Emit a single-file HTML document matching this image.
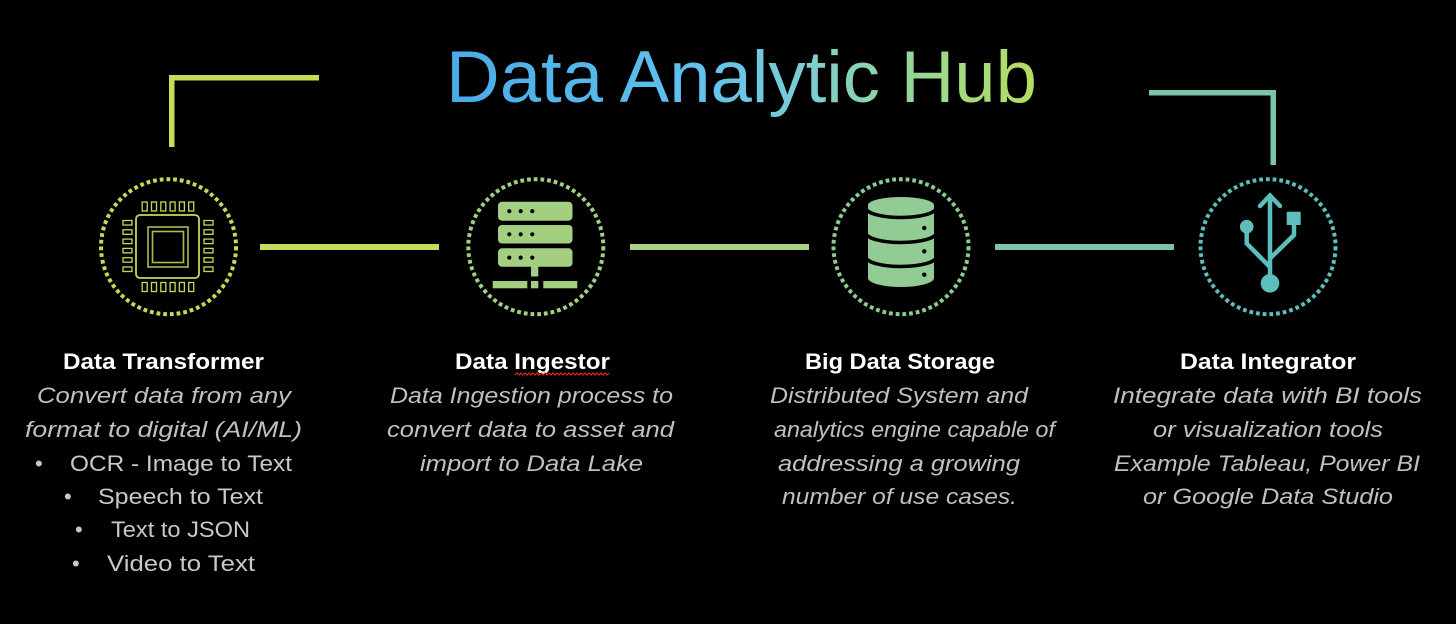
<!DOCTYPE html>
<html>
<head>
<meta charset="utf-8">
<style>
  html, body { margin: 0; padding: 0; background: #000; }
  body { width: 1456px; height: 624px; overflow: hidden; }
  svg { display: block; }
  .b { font-family: "Liberation Sans", sans-serif; font-weight: bold; font-size: 22px; fill: #ffffff; }
  .i { font-family: "Liberation Sans", sans-serif; font-style: italic; font-size: 22px; fill: #c0c0c0; }
  .n { font-family: "Liberation Sans", sans-serif; font-size: 22px; fill: #c8c8c8; }
</style>
</head>
<body>
<svg width="1456" height="624" viewBox="0 0 1456 624" xmlns="http://www.w3.org/2000/svg">
  <defs>
    <linearGradient id="tg" x1="446" y1="0" x2="1037" y2="0" gradientUnits="userSpaceOnUse">
      <stop offset="0" stop-color="#47ABE6"/>
      <stop offset="0.45" stop-color="#63C3EC"/>
      <stop offset="0.62" stop-color="#7ECED0"/>
      <stop offset="0.76" stop-color="#92D59E"/>
      <stop offset="1" stop-color="#B6DD60"/>
    </linearGradient>
  </defs>
  <rect x="0" y="0" width="1456" height="624" fill="#000"/>

  <!-- Title -->
  <text x="446" y="102" font-family="Liberation Sans, sans-serif" font-size="73" fill="url(#tg)" textLength="591" lengthAdjust="spacingAndGlyphs">Data Analytic Hub</text>

  <!-- Brackets -->
  <rect x="169" y="75" width="150" height="5.5" fill="#CBDA58"/>
  <rect x="169" y="75" width="5.5" height="72" fill="#CBDA58"/>
  <rect x="1149" y="90" width="127" height="5.5" fill="#7CC4A8"/>
  <rect x="1270.5" y="90" width="5.5" height="75" fill="#7CC4A8"/>

  <!-- Connectors -->
  <rect x="260" y="244" width="179" height="6" fill="#CAD95A"/>
  <rect x="630" y="244" width="179" height="6" fill="#A8D387"/>
  <rect x="995" y="244" width="179" height="6" fill="#7CC4A8"/>

  <!-- Dotted circles -->
  <circle cx="168.5" cy="246.7" r="67.5" fill="none" stroke="#C9D85A" stroke-width="4" pathLength="63" stroke-dasharray="0.56 0.44"/>
  <circle cx="535.8" cy="246.7" r="67.5" fill="none" stroke="#A3CF83" stroke-width="4" pathLength="63" stroke-dasharray="0.56 0.44"/>
  <circle cx="901" cy="246.7" r="67.5" fill="none" stroke="#8CCB92" stroke-width="4" pathLength="63" stroke-dasharray="0.56 0.44"/>
  <circle cx="1268" cy="246.7" r="67.5" fill="none" stroke="#5DBEBA" stroke-width="4" pathLength="63" stroke-dasharray="0.56 0.44"/>

  <!-- CPU icon -->
  <g fill="none" stroke="#C8D65A">
    <rect x="136" y="215" width="63" height="63" rx="4" stroke-width="1.8"/>
    <rect x="148" y="227" width="40" height="40" stroke-width="1.6" stroke="#AEBA4C"/>
    <rect x="152.5" y="231.5" width="31" height="31" stroke-width="1.6" stroke="#AEBA4C"/>
    <g stroke-width="1.3">
      <rect x="142.2" y="202" width="5" height="9"/>
      <rect x="151.5" y="202" width="5" height="9"/>
      <rect x="160.8" y="202" width="5" height="9"/>
      <rect x="170.1" y="202" width="5" height="9"/>
      <rect x="179.4" y="202" width="5" height="9"/>
      <rect x="188.7" y="202" width="5" height="9"/>
      <rect x="142.2" y="282.5" width="5" height="9"/>
      <rect x="151.5" y="282.5" width="5" height="9"/>
      <rect x="160.8" y="282.5" width="5" height="9"/>
      <rect x="170.1" y="282.5" width="5" height="9"/>
      <rect x="179.4" y="282.5" width="5" height="9"/>
      <rect x="188.7" y="282.5" width="5" height="9"/>
      <rect x="123" y="220.5" width="9" height="4.5"/>
      <rect x="123" y="229.8" width="9" height="4.5"/>
      <rect x="123" y="239.1" width="9" height="4.5"/>
      <rect x="123" y="248.4" width="9" height="4.5"/>
      <rect x="123" y="257.7" width="9" height="4.5"/>
      <rect x="123" y="267" width="9" height="4.5"/>
      <rect x="204" y="220.5" width="9" height="4.5"/>
      <rect x="204" y="229.8" width="9" height="4.5"/>
      <rect x="204" y="239.1" width="9" height="4.5"/>
      <rect x="204" y="248.4" width="9" height="4.5"/>
      <rect x="204" y="257.7" width="9" height="4.5"/>
      <rect x="204" y="267" width="9" height="4.5"/>
    </g>
  </g>

  <!-- Server icon -->
  <g fill="#A5CF80">
    <rect x="498" y="201.7" width="74.5" height="19" rx="4"/>
    <rect x="498" y="225" width="74.5" height="18.5" rx="4"/>
    <rect x="498" y="248.3" width="74.5" height="18.5" rx="4"/>
    <rect x="531" y="266" width="7.3" height="10.5"/>
    <rect x="492.7" y="281" width="34.6" height="7.3"/>
    <rect x="531" y="281" width="7.3" height="7.3"/>
    <rect x="543.3" y="281" width="34" height="7.3"/>
  </g>
  <g fill="#000">
    <circle cx="509.3" cy="211.2" r="2.1"/>
    <circle cx="520.7" cy="211.2" r="2.1"/>
    <circle cx="532.3" cy="211.2" r="2.1"/>
    <circle cx="509.3" cy="234.3" r="2.1"/>
    <circle cx="520.7" cy="234.3" r="2.1"/>
    <circle cx="532.3" cy="234.3" r="2.1"/>
    <circle cx="509.3" cy="257.6" r="2.1"/>
    <circle cx="520.7" cy="257.6" r="2.1"/>
    <circle cx="532.3" cy="257.6" r="2.1"/>
  </g>

  <!-- Database icon -->
  <path d="M868,205 A33,8 0 0 1 934,205 L934,278 A33,9 0 0 1 868,278 Z" fill="#92CB93"/>
  <g fill="none" stroke="#000" stroke-width="3.5">
    <path d="M866,208 A35,9.5 0 0 0 936,208"/>
    <path d="M866,233 A35,9.5 0 0 0 936,233"/>
    <path d="M866,257 A35,9.5 0 0 0 936,257"/>
  </g>
  <g fill="#000">
    <circle cx="924.3" cy="228" r="2.2"/>
    <circle cx="924.3" cy="251.3" r="2.2"/>
    <circle cx="924.3" cy="274.7" r="2.2"/>
  </g>

  <!-- USB icon -->
  <g stroke="#5DBFBB" fill="none" stroke-width="4.5" stroke-linejoin="miter">
    <line x1="1270" y1="196" x2="1270" y2="280"/>
    <polyline points="1260,206 1270,195.5 1280,206" stroke-linecap="round"/>
    <polyline points="1246.7,228 1246.7,243.5 1270,267"/>
    <polyline points="1294,224 1294,235 1270,258.5"/>
  </g>
  <g fill="#5DBFBB">
    <circle cx="1270" cy="283.3" r="9.3"/>
    <circle cx="1246.7" cy="226.7" r="6.8"/>
    <rect x="1286.7" y="211.7" width="14" height="13.3"/>
  </g>

  <!-- Column 1 text -->
  <text class="b" x="63" y="369" textLength="201" lengthAdjust="spacingAndGlyphs">Data Transformer</text>
  <text class="i" x="37" y="403" textLength="254" lengthAdjust="spacingAndGlyphs">Convert data from any</text>
  <text class="i" x="25" y="437" textLength="277" lengthAdjust="spacingAndGlyphs">format to digital (AI/ML)</text>
  <text class="n" x="35" y="471">•</text>
  <text class="n" x="70" y="471" textLength="222" lengthAdjust="spacingAndGlyphs">OCR - Image to Text</text>
  <text class="n" x="64" y="504">•</text>
  <text class="n" x="98" y="504" textLength="165" lengthAdjust="spacingAndGlyphs">Speech to Text</text>
  <text class="n" x="75" y="537">•</text>
  <text class="n" x="111" y="537" textLength="139" lengthAdjust="spacingAndGlyphs">Text to JSON</text>
  <text class="n" x="72" y="571">•</text>
  <text class="n" x="107" y="571" textLength="148" lengthAdjust="spacingAndGlyphs">Video to Text</text>

  <!-- Column 2 text -->
  <text class="b" x="455" y="369" textLength="155" lengthAdjust="spacingAndGlyphs">Data Ingestor</text>
  <path d="M515,375 l2,-2 l2,2 l2,-2 l2,2 l2,-2 l2,2 l2,-2 l2,2 l2,-2 l2,2 l2,-2 l2,2 l2,-2 l2,2 l2,-2 l2,2 l2,-2 l2,2 l2,-2 l2,2 l2,-2 l2,2 l2,-2 l2,2 l2,-2 l2,2 l2,-2 l2,2 l2,-2 l2,2 l2,-2 l2,2 l2,-2 l2,2 l2,-2 l2,2 l2,-2 l2,2 l2,-2 l2,2 l2,-2 l2,2 l2,-2 l2,2 l2,-2 l2,2 l2,-2" fill="none" stroke="#E0281E" stroke-width="1.2"/>
  <text class="i" x="390" y="403" textLength="283" lengthAdjust="spacingAndGlyphs">Data Ingestion process to</text>
  <text class="i" x="387" y="437" textLength="287" lengthAdjust="spacingAndGlyphs">convert data to asset and</text>
  <text class="i" x="420" y="471" textLength="223" lengthAdjust="spacingAndGlyphs">import to Data Lake</text>

  <!-- Column 3 text -->
  <text class="b" x="805" y="369" textLength="190" lengthAdjust="spacingAndGlyphs">Big Data Storage</text>
  <text class="i" x="770" y="403" textLength="258" lengthAdjust="spacingAndGlyphs">Distributed System and</text>
  <text class="i" x="774" y="437" textLength="281" lengthAdjust="spacingAndGlyphs">analytics engine capable of</text>
  <text class="i" x="778" y="471" textLength="242" lengthAdjust="spacingAndGlyphs">addressing a growing</text>
  <text class="i" x="782" y="504" textLength="235" lengthAdjust="spacingAndGlyphs">number of use cases.</text>

  <!-- Column 4 text -->
  <text class="b" x="1180" y="369" textLength="176" lengthAdjust="spacingAndGlyphs">Data Integrator</text>
  <text class="i" x="1113" y="403" textLength="309" lengthAdjust="spacingAndGlyphs">Integrate data with BI tools</text>
  <text class="i" x="1153" y="437" textLength="230" lengthAdjust="spacingAndGlyphs">or visualization tools</text>
  <text class="i" x="1114" y="471" textLength="306" lengthAdjust="spacingAndGlyphs">Example Tableau, Power BI</text>
  <text class="i" x="1143" y="504" textLength="250" lengthAdjust="spacingAndGlyphs">or Google Data Studio</text>
</svg>
</body>
</html>
